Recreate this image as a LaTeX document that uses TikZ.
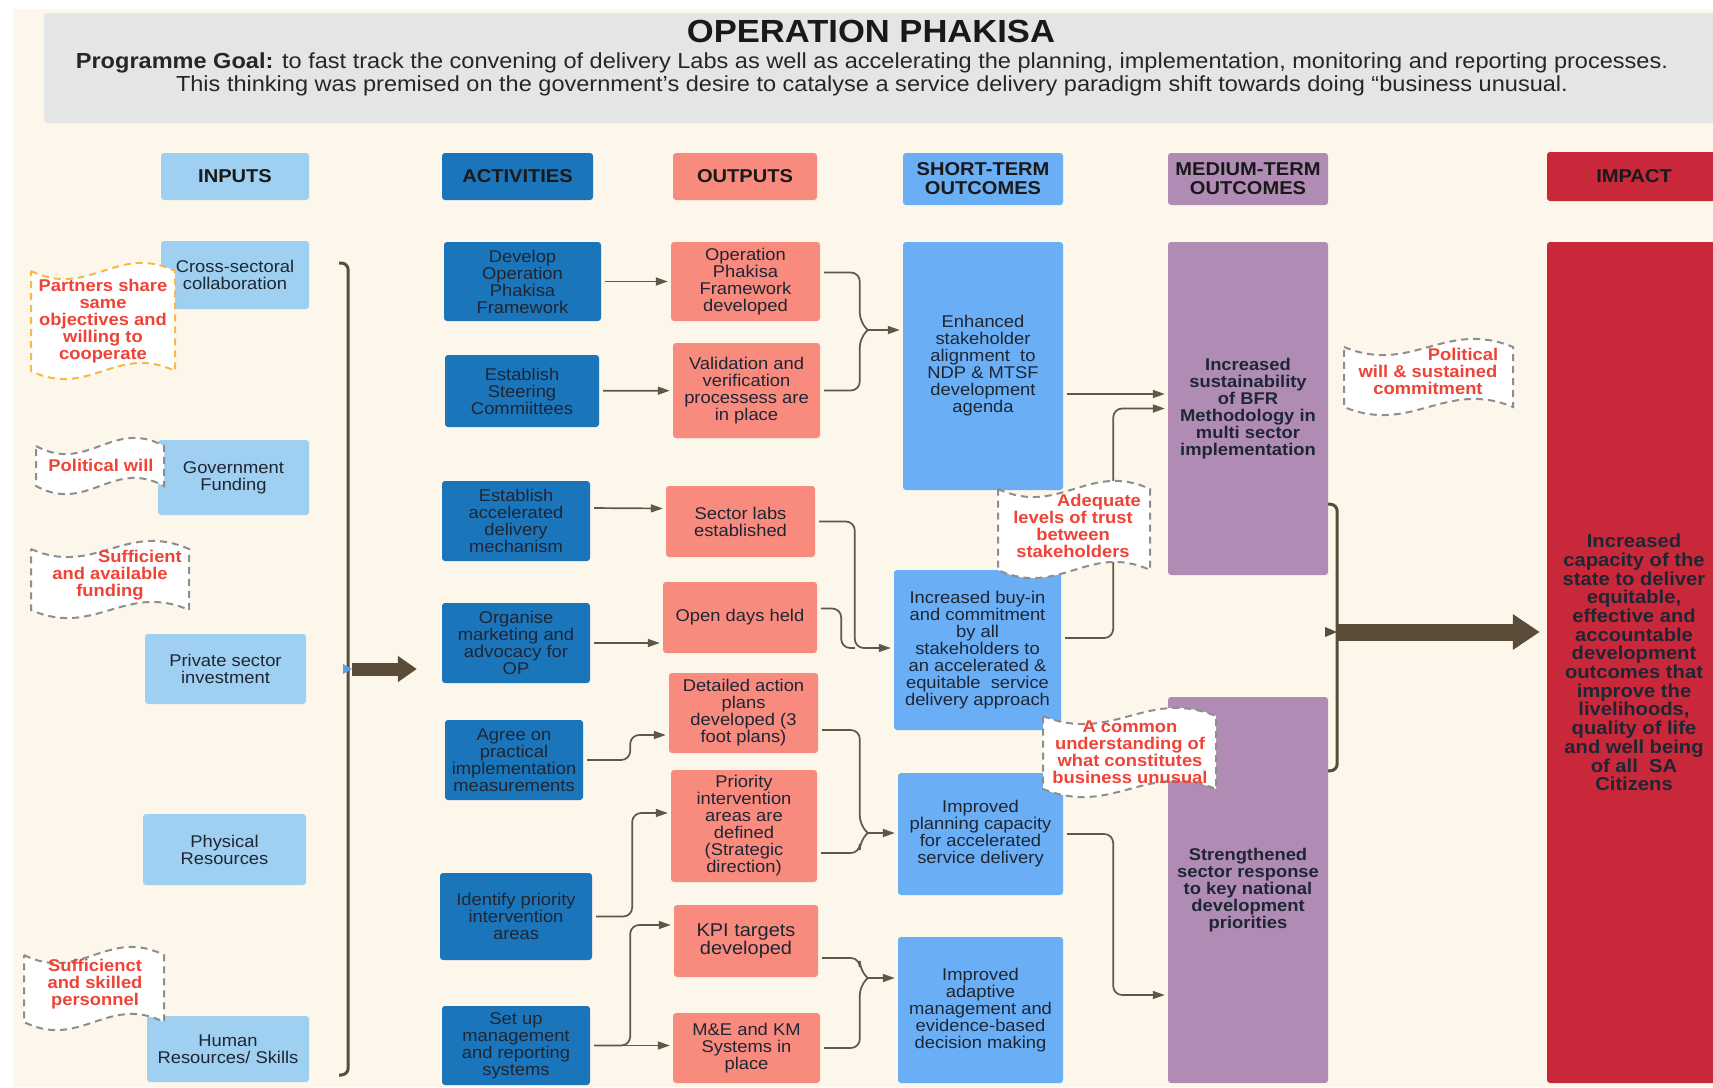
\documentclass[tikz,border=0pt]{standalone}
\usepackage{fontspec}
\setmainfont{Liberation Sans}[FakeStretch=1.08]
\usetikzlibrary{positioning,calc,arrows.meta}
\definecolor{bgcream}{HTML}{FDF6EA}
\definecolor{titlegray}{HTML}{E5E5E5}
\definecolor{inblue}{HTML}{9FCFF1}
\definecolor{actblue}{HTML}{1B75BB}
\definecolor{outsalmon}{HTML}{F98A7E}
\definecolor{shortblue}{HTML}{6AAEF6}
\definecolor{medpurple}{HTML}{B08CB4}
\definecolor{impred}{HTML}{C9283A}
\definecolor{textdark}{HTML}{1F2633}
\definecolor{connclr}{HTML}{5E5848}
\definecolor{thickbrown}{HTML}{5A4C38}
\definecolor{notered}{HTML}{EE4336}
\definecolor{dashgray}{HTML}{8E8E8E}
\definecolor{dashorange}{HTML}{F5B947}
\definecolor{tickblue}{HTML}{5A9FE0}
\begin{document}
\begin{tikzpicture}[x=1pt,y=-1pt,
	box/.style={rounded corners=3pt,align=center,inner sep=0pt,text=textdark,font=\myfontbox},
	inbox/.style={box,fill=inblue},
	actbox/.style={box,fill=actblue},
	outbox/.style={box,fill=outsalmon},
	shortbox/.style={box,fill=shortblue},
	medbox/.style={box,fill=medpurple,font=\myfontbox\bfseries},
	impbox/.style={box,fill=impred,font=\myfontimpact},
	headbox/.style={box,text=black!90,font=\myfonthead},
	notetext/.style={align=center,inner sep=0pt,text=notered,font=\myfontnote},
	notewave/.style={fill=white,draw=dashgray,line width=2pt,dash pattern=on 7pt off 5pt},
	conn/.style={draw=connclr,line width=1.7pt,rounded corners=9pt,shorten <=4pt,shorten >=3pt,-{Triangle[length=12pt,width=8pt]}},
	connjoin/.style={conn,shorten <=0pt},
	connline/.style={draw=connclr,line width=1.7pt,rounded corners=9pt},
	brace/.style={draw=thickbrown,line width=3pt,rounded corners=7pt},
	fatarrow/.style={draw=thickbrown,line width=13pt,-{Triangle[length=19pt,width=25pt]}},
	fatarrowwide/.style={draw=thickbrown,line width=17pt,-{Triangle[length=27pt,width=34pt]}}
	]
	\newcommand{\myfontbox}{\fontsize{17}{17}\selectfont}
	\newcommand{\myfontimpact}{\fontsize{18.7}{18.7}\selectfont\bfseries}
	\newcommand{\myfonthead}{\fontsize{18.6}{19}\selectfont\bfseries}
	\newcommand{\myfontnote}{\fontsize{17}{17}\selectfont\bfseries}
	\newcommand{\myfonttitle}{\fontsize{32}{32}\selectfont\bfseries}
	\newcommand{\myfontgoal}{\fontsize{21.8}{23}\selectfont}
	%Wavy note: x1, y1, x2, y2, extra options
	\newcommand{\mywave}[5]{
		\path[notewave,#5] (#1,#2) .. controls +({0.4*(#3-#1)},28) and +({-0.4*(#3-#1)},-28) .. (#3,#2)
			-- (#3,#4) .. controls +({-0.4*(#3-#1)},-28) and +({0.4*(#3-#1)},28) .. (#1,#4) -- cycle;
	}
	%Page and background
	\useasboundingbox (0,0) rectangle (1713,1087);
	\fill[white] (0,0) rectangle (1713,1087);
	\fill[bgcream] (13,9) rectangle (1713,1087);
	%Title block
	\fill[titlegray,rounded corners=3pt] (44,13) rectangle (1730,123);
	\node[font=\myfonttitle,text=black!90] (title) at (871,31) {OPERATION PHAKISA};
	\node[font=\myfontgoal,align=center,text=black!85] (goal) at (872,74.5)
		{\textbf{Programme Goal:} to fast track the convening of delivery Labs as well as accelerating the planning, implementation, monitoring and reporting processes.\\
		This thinking was premised on the government’s desire to catalyse a service delivery paradigm shift towards doing “business unusual.};
	%Column headers
	\node[headbox,fill=inblue,minimum width=148,minimum height=47] (hIn) at (235,176.5) {INPUTS};
	\node[headbox,fill=actblue,minimum width=151,minimum height=47] (hAct) at (517.5,176.5) {ACTIVITIES};
	\node[headbox,fill=outsalmon,minimum width=144,minimum height=47] (hOut) at (745,176.5) {OUTPUTS};
	\node[headbox,fill=shortblue,minimum width=160,minimum height=52] (hShort) at (983,179) {SHORT-TERM\\OUTCOMES};
	\node[headbox,fill=medpurple,minimum width=160,minimum height=52] (hMed) at (1248,179) {MEDIUM-TERM\\OUTCOMES};
	\node[headbox,fill=impred,minimum width=174,minimum height=49] (hImp) at (1634,176.5) {IMPACT};
	%Inputs
	\node[inbox,minimum width=148,minimum height=68] (inCross) at (235,275) {Cross-sectoral\\collaboration};
	\node[inbox,minimum width=151,minimum height=75] (inGov) at (233.5,477.5) {Government\\Funding};
	\node[inbox,minimum width=161,minimum height=70] (inPriv) at (225.5,669) {Private sector\\investment};
	\node[inbox,minimum width=163,minimum height=71] (inPhys) at (224.5,849.5) {Physical\\Resources};
	\node[inbox,minimum width=162,minimum height=66] (inHum) at (228,1049) {Human\\Resources/ Skills};
	%Activities
	\node[actbox,minimum width=157,minimum height=79] (aDev) at (522.5,281.5) {Develop\\Operation\\Phakisa\\Framework};
	\node[actbox,minimum width=154,minimum height=72] (aSteer) at (522,391) {Establish\\Steering\\Commiittees};
	\node[actbox,minimum width=148,minimum height=80] (aMech) at (516,521) {Establish\\accelerated\\delivery\\mechanism};
	\node[actbox,minimum width=148,minimum height=80] (aMkt) at (516,643) {Organise\\marketing and\\advocacy for\\OP};
	\node[actbox,minimum width=138,minimum height=80] (aAgree) at (514,760) {Agree on\\practical\\implementation\\measurements};
	\node[actbox,minimum width=152,minimum height=87] (aIdent) at (516,916.5) {Identify priority\\intervention\\areas};
	\node[actbox,minimum width=148,minimum height=79] (aSetup) at (516,1045.5) {Set up\\management\\and reporting\\systems};
	%Outputs
	\node[outbox,minimum width=149,minimum height=79] (oFrame) at (745.5,281.5) {Operation\\Phakisa\\Framework\\developed};
	\node[outbox,minimum width=147,minimum height=95] (oValid) at (746.5,390.5) {Validation and\\verification\\processess are\\in place};
	\node[outbox,minimum width=149,minimum height=71] (oLabs) at (740.5,521.5) {Sector labs\\established};
	\node[outbox,minimum width=154,minimum height=71] (oOpen) at (740,617.5) {Open days held};
	\node[outbox,minimum width=149,minimum height=80] (oPlans) at (743.5,713) {Detailed action\\plans\\developed (3\\foot plans)};
	\node[outbox,minimum width=146,minimum height=112] (oPrio) at (744,826) {Priority\\intervention\\areas are\\defined\\(Strategic\\direction)};
	\node[outbox,minimum width=144,minimum height=72,font=\fontsize{18.5}{18.5}\selectfont] (oKPI) at (746,941) {KPI targets\\developed};
	\node[outbox,minimum width=147,minimum height=70] (oME) at (746.5,1048) {M\&E and KM\\Systems in\\place};
	%Short-term outcomes
	\node[shortbox,minimum width=160,minimum height=248] (sAlign) at (983,366) {Enhanced\\stakeholder\\alignment~ to\\NDP \& MTSF\\development\\agenda};
	\node[shortbox,minimum width=167,minimum height=160] (sBuyin) at (977.5,650) {Increased buy-in\\and commitment\\by all\\stakeholders to\\an accelerated \&\\equitable~ service\\delivery approach};
	\node[shortbox,minimum width=165,minimum height=122] (sPlan) at (980.5,834) {Improved\\planning capacity\\for accelerated\\service delivery};
	\node[shortbox,minimum width=165,minimum height=146] (sAdapt) at (980.5,1010) {Improved\\adaptive\\management and\\evidence-based\\decision making};
	%Medium-term outcomes
	\node[medbox,minimum width=160,minimum height=333] (mSustain) at (1248,408.5) {Increased\\sustainability\\of BFR\\Methodology in\\multi sector\\implementation};
	\node[medbox,minimum width=160,minimum height=386] (mSector) at (1248,890) {Strengthened\\sector response\\to key national\\development\\priorities};
	%Impact
	\node[impbox,minimum width=174,minimum height=841] (impBox) at (1634,662.5) {Increased\\capacity of the\\state to deliver\\equitable,\\effective and\\accountable\\development\\outcomes that\\improve the\\livelihoods,\\quality of life\\and well being\\of all~ SA\\Citizens};
	%Activities to outputs
	\draw[conn] (aDev) -- (oFrame);
	\draw[conn] (aSteer) -- (oValid);
	\draw[conn] ($(aMech.east)+(0,-13)$) -- ($(oLabs.west)+(0,-13)$);
	\draw[conn] (aMkt.east) -- (aMkt.east -| oOpen.west);
	\draw[conn] (aAgree.east) -- ++(47,0) |- ($(oPlans.west)+(0,22)$);
	\draw[conn] (aIdent.east) -- ++(40,0) |- ($(oPrio.west)+(0,-13)$);
	\draw[conn] (aSetup.east) -- ++(40,0) |- ($(oKPI.west)+(0,-16)$);
	\draw[conn] (aSetup.east) -- (aSetup.east -| oME.west);
	%Outputs to short-term outcomes
	\coordinate (bAlign) at ($(sAlign.west)+(-35,-36)$);
	\draw[connline] ($(oFrame.east)+(4,-9)$) -| ($(bAlign)+(-8,-8)$) -- (bAlign);
	\draw[connline] ($(oValid.east)+(4,0)$) -| ($(bAlign)+(-8,8)$) -- (bAlign);
	\draw[connjoin] (bAlign) -- (bAlign -| sAlign.west);
	\coordinate (jBuyin) at ($(sBuyin.west)+(-39,-2)$);
	\draw[conn] (oLabs.east) -| (jBuyin) -- (jBuyin -| sBuyin.west);
	\draw[connline] ($(oOpen.east)+(4,-9)$) -- ++(20,0) |- (jBuyin);
	\coordinate (bPlan) at ($(sPlan.west)+(-30,-1)$);
	\draw[connline] ($(oPlans.east)+(4,17)$) -| ($(bPlan)+(-8,-8)$) -- (bPlan);
	\draw[connline] ($(oPrio.east)+(4,27)$) -| ($(bPlan)+(-8,8)$) -- (bPlan);
	\draw[connjoin] (bPlan) -- (bPlan -| sPlan.west);
	\coordinate (bAdapt) at ($(sAdapt.west)+(-30,-32)$);
	\draw[connline] ($(oKPI.east)+(4,17)$) -| ($(bAdapt)+(-8,-8)$) -- (bAdapt);
	\draw[connline] ($(oME.east)+(4,0)$) -| ($(bAdapt)+(-8,8)$) -- (bAdapt);
	\draw[connjoin] (bAdapt) -- (bAdapt -| sAdapt.west);
	%Short-term to medium-term outcomes
	\draw[conn] ($(sAlign.east)+(0,28)$) -- ($(mSustain.west)+(0,-14.5)$);
	\draw[conn] ($(sBuyin.east)+(0,-12)$) -- ++(52,0) |- (mSustain.west);
	\draw[conn] (sPlan.east) -- ++(50,0) |- ($(mSector.west)+(0,105)$);
	%Inputs bracket and arrow
	\coordinate (inTop) at ($(inCross.east)+(30,-12)$);
	\coordinate (inBot) at ($(inHum.east)+(30,26)$);
	\draw[brace] (inTop) -- ++(9,0) -- ($(inBot)+(9,0)$) -- (inBot);
	\coordinate (inMid) at (352,669);
	\fill[tickblue] (343,664) -- (352,669) -- (343,674) -- cycle;
	\draw[fatarrow,shorten >=25pt] (inMid) -- (inMid -| aMkt.west);
	%Medium-term bracket and arrow
	\coordinate (medTop) at ($(mSustain.south east)+(0,-71)$);
	\coordinate (medBot) at ($(mSector.north east)+(0,74)$);
	\draw[brace] (medTop) -- ++(9,0) -- ($(medBot)+(9,0)$) -- (medBot);
	\coordinate (medMid) at (1337,632);
	\fill[thickbrown] (1325,627) -- (1337,632) -- (1325,637) -- cycle;
	\draw[fatarrowwide,shorten >=7pt] (medMid) -- (medMid -| impBox.west);
	%Assumption notes
	\mywave{31}{271}{175}{371}{draw=dashorange}
	\node[notetext] (nPartners) at (103,321) {Partners share\\same\\objectives and\\willing to\\cooperate};
	\mywave{36}{446}{164}{486}{}
	\node[notetext] (nPolWill) at (101,465) {Political will};
	\mywave{31}{549}{189}{610}{}
	\node[notetext] (nFunding) at (110,575) {\hspace*{60pt}Sufficient\\and available\\funding};
	\mywave{24}{955}{164}{1022}{}
	\node[notetext] (nPersonnel) at (95,984) {Sufficienct\\and skilled\\personnel};
	\mywave{1344}{347}{1513}{407}{}
	\node[notetext] (nPolCommit) at (1428,371) {\hspace*{70pt}Political\\will \& sustained\\commitment};
	\mywave{998}{489}{1150}{570}{}
	\node[notetext] (nTrust) at (1073,526) {\hspace*{52pt}Adequate\\levels of trust\\between\\stakeholders};
	\mywave{1043}{716}{1216}{789}{}
	\node[notetext] (nCommon) at (1130,752) {A common\\understanding of\\what constitutes\\business unusual};
\end{tikzpicture}
\end{document}
